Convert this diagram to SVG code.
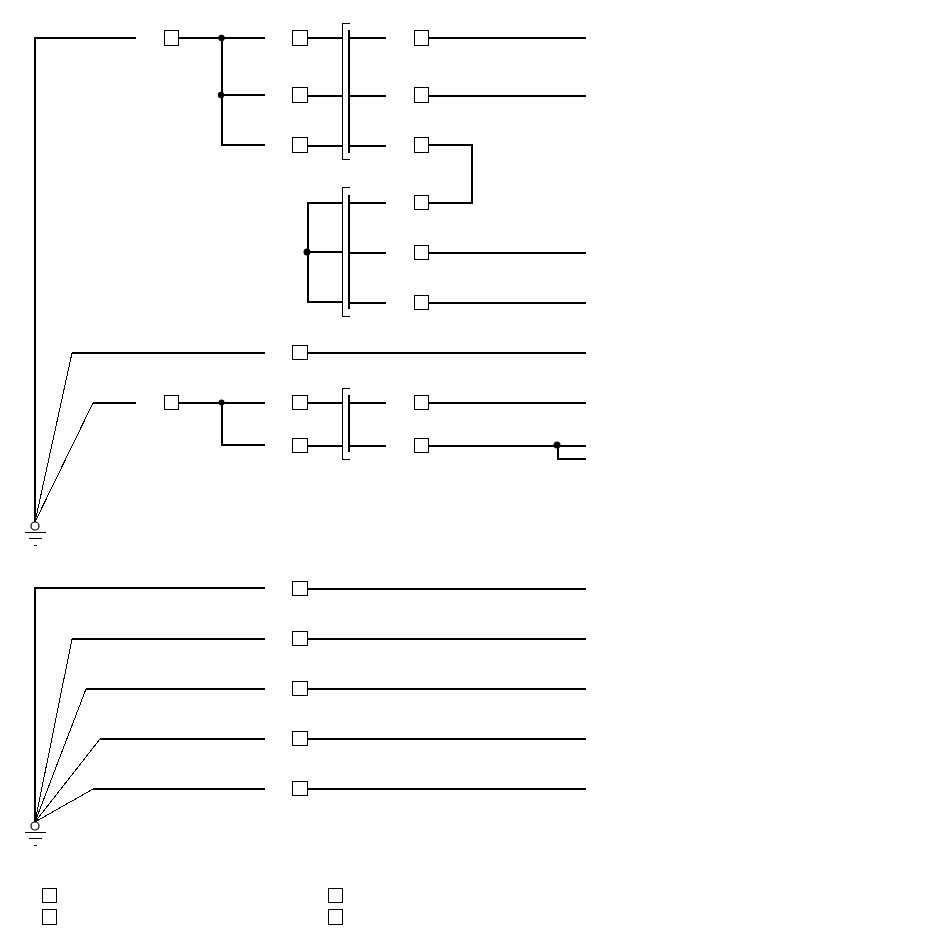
<svg xmlns="http://www.w3.org/2000/svg" width="950" height="950" viewBox="0 0 950 950" shape-rendering="crispEdges">
<style>
.b{fill:#fff;stroke:#000;stroke-width:1}
.w{fill:none;stroke:#000;stroke-width:2}
.t{fill:none;stroke:#000;stroke-width:1}
.d{fill:#000;stroke:none;shape-rendering:geometricPrecision}
.g{fill:#fff;stroke:#000;stroke-width:1.200;shape-rendering:geometricPrecision}
</style>
<rect width="950" height="950" fill="#fff"/>
<g id="connectors">
<path class="w" d="M136 38H35V522"/>
<path class="w" d="M179 38H265M222 38V145H265M222 95H265"/>
<path class="w" d="M308 38H342M350 38H386M308 96H342M350 96H386M308 146H342M350 146H386"/>
<path class="w" d="M429 38H586M429 96H586M429 145H472V203H429"/>
<path class="w" d="M342 203H308V302H342M308 252H342M350 203H386M350 253H386M350 303H386"/>
<path class="w" d="M429 253H586M429 303H586"/>
<path class="w" d="M72 353H265M308 353H586"/>
<path class="w" d="M93 403H136M179 403H265M222 403V445H265"/>
<path class="w" d="M308 403H342M350 403H386M308 446H342M350 446H386"/>
<path class="w" d="M429 403H586M429 446H586M558 446V459H586"/>
<path class="w" d="M349 30V153M349 195V309M349 395V452"/>
<path class="t" d="M350 23.500H342.500V159.500H350M350 187.500H342.500V316.500H350M350 388.500H342.500V459.500H350"/>
<path class="t" d="M72 353L35 522M93 403L35 522"/>
<path class="w" d="M265 588H35V822M72 639H265M86 689H265M100 739H265M93 789H265"/>
<path class="w" d="M308 589H586M308 639H586M308 689H586M308 739H586M308 789H586"/>
<path class="t" d="M72 639L35 822M86 689L35 822M100 739L35 822M93 789L35 822"/>
<circle class="d" cx="221.500" cy="38" r="3.200"/>
<circle class="d" cx="221" cy="95" r="3.200"/>
<circle class="d" cx="307" cy="252" r="3.500"/>
<circle class="d" cx="221.500" cy="402.500" r="3"/>
<circle class="d" cx="557" cy="445" r="3.500"/>
</g>
<g id="ground1">
<circle class="g" cx="35" cy="526" r="4"/>
<path class="t" d="M25 532.500H46M29 538.500H42M34 545.500H37"/>
</g>
<g id="ground2">
<circle class="g" cx="35" cy="826" r="4"/>
<path class="t" d="M25 832.500H46M29 838.500H42M34 845.500H37"/>
</g>
<g id="n1"><rect class="b" x="164.500" y="30.500" width="14" height="15"/></g>
<g id="n2"><rect class="b" x="292.500" y="30.500" width="15" height="15"/></g>
<g id="n3"><rect class="b" x="292.500" y="87.500" width="15" height="15"/></g>
<g id="n4"><rect class="b" x="292.500" y="137.500" width="15" height="15"/></g>
<g id="n5"><rect class="b" x="414.500" y="30.500" width="14" height="15"/></g>
<g id="n6"><rect class="b" x="414.500" y="87.500" width="14" height="15"/></g>
<g id="n7"><rect class="b" x="414.500" y="137.500" width="14" height="15"/></g>
<g id="n8"><rect class="b" x="414.500" y="195.500" width="14" height="14"/></g>
<g id="n9"><rect class="b" x="414.500" y="245.500" width="14" height="14"/></g>
<g id="n10"><rect class="b" x="414.500" y="295.500" width="14" height="14"/></g>
<g id="n11"><rect class="b" x="292.500" y="345.500" width="15" height="14"/></g>
<g id="n12"><rect class="b" x="164.500" y="395.500" width="14" height="14"/></g>
<g id="n13"><rect class="b" x="292.500" y="395.500" width="15" height="14"/></g>
<g id="n14"><rect class="b" x="292.500" y="438.500" width="15" height="14"/></g>
<g id="n15"><rect class="b" x="414.500" y="395.500" width="14" height="14"/></g>
<g id="n16"><rect class="b" x="414.500" y="438.500" width="14" height="14"/></g>
<g id="n17"><rect class="b" x="292.500" y="581.500" width="15" height="14"/></g>
<g id="n18"><rect class="b" x="292.500" y="631.500" width="15" height="14"/></g>
<g id="n19"><rect class="b" x="292.500" y="681.500" width="15" height="14"/></g>
<g id="n20"><rect class="b" x="292.500" y="731.500" width="15" height="14"/></g>
<g id="n21"><rect class="b" x="292.500" y="781.500" width="15" height="14"/></g>
<g id="n22"><rect class="b" x="42.500" y="888.500" width="14" height="14"/></g>
<g id="n23"><rect class="b" x="42.500" y="909.500" width="14" height="15"/></g>
<g id="n24"><rect class="b" x="328.500" y="888.500" width="14" height="14"/></g>
<g id="n25"><rect class="b" x="328.500" y="909.500" width="14" height="15"/></g>
</svg>
